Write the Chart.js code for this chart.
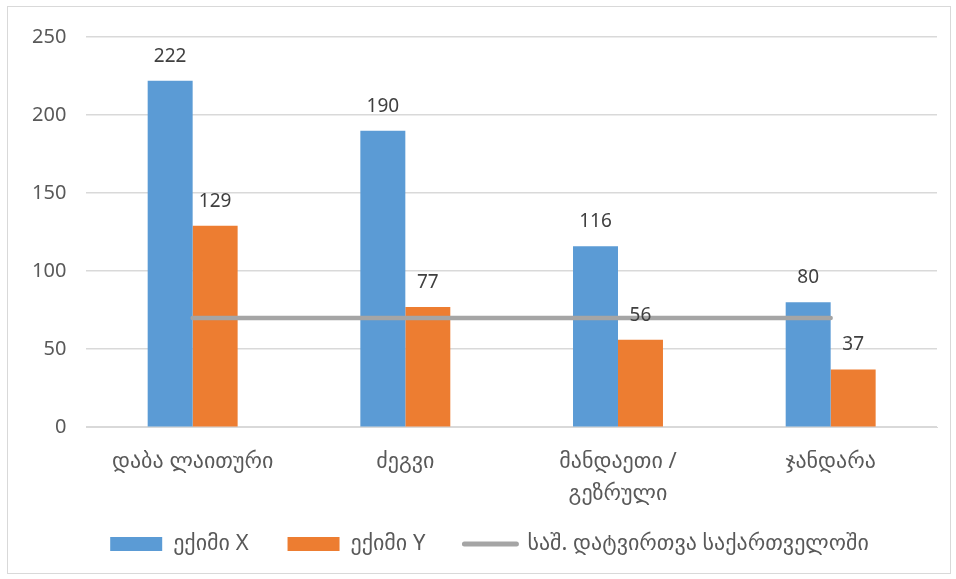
<!DOCTYPE html>
<html lang="ka">
<head>
<meta charset="utf-8">
<title>ექიმების დატვირთვა</title>
<script src="https://cdn.jsdelivr.net/npm/chart.js@4.4.1/dist/chart.umd.min.js"></script>
<style>
  html, body { margin: 0; padding: 0; background: #fff; }
  #box {
    position: absolute; left: 7px; top: 6px;
    width: 942px; height: 566px;
    border: 1px solid #D9D9D9;
  }
</style>
<script>
// data
var categories = ['დაბა ლაითური', 'ძეგვი', ['მანდაეთი /', 'გეზრული'], 'ჯანდარა'];
var doctorX = [222, 190, 116, 80];
var doctorY = [129, 77, 56, 37];
var avgGeorgia = [70, 70, 70, 70];
var yTicks = [0, 50, 100, 150, 200, 250];

var seriesNames = ['ექიმი X', 'ექიმი Y', 'საშ. დატვირთვა საქართველოში'];

var FONT = "'Noto Sans', 'DejaVu Sans', sans-serif";

// little plugin to write the values above the bars
var barValues = {
    id: 'barValues',
    afterLayout: function(chart) {
        // nudge the legend to where it is in the original
        var lg = chart.legend;
        if (lg) {
            lg.left += 15; lg.right += 15;
            lg.top -= 27;
        }
    },
    afterDatasetsDraw: function(chart) {
        var ctx = chart.ctx;
        ctx.save();
        ctx.font = '19px ' + FONT;
        ctx.fillStyle = '#404040';
        ctx.textAlign = 'center';
        ctx.textBaseline = 'alphabetic';
        chart.data.datasets.forEach(function(ds, i) {
            if (ds.type !== 'bar') return;
            var meta = chart.getDatasetMeta(i);
            meta.data.forEach(function(el, j) {
                ctx.fillText(String(ds.data[j]), el.x, el.y - 19);
            });
        });
        ctx.restore();
    }
};

function go()
{
    var ctx = document.getElementById('myChart');
    new Chart(ctx, {
        data: {
            labels: categories,
            datasets: [
                { type: 'bar', label: seriesNames[0], data: doctorX,
                  backgroundColor: '#5B9BD5', order: 1,
                  categoryPercentage: 0.423, barPercentage: 1.0 },
                { type: 'bar', label: seriesNames[1], data: doctorY,
                  backgroundColor: '#ED7D31', order: 1,
                  categoryPercentage: 0.423, barPercentage: 1.0 },
                { type: 'line', label: seriesNames[2], data: avgGeorgia,
                  borderColor: '#A5A5A5', backgroundColor: '#A5A5A5',
                  borderWidth: 4.5, borderCapStyle: 'round',
                  pointRadius: 0, fill: false, order: 0 }
            ]
        },
        options: {
            responsive: false,
            animation: false,
            layout: { padding: { left: 4, right: 13, top: 8, bottom: 4 } },
            plugins: {
                tooltip: { enabled: false },
                legend: {
                    position: 'bottom',
                    maxHeight: 48,
                    labels: {
                        font: { family: FONT, size: 22 },
                        color: '#595959',
                        boxWidth: 52,
                        boxHeight: 14,
                        padding: 39,
                        usePointStyle: true,
                        pointStyleWidth: 52,
                        generateLabels: function(chart) {
                            return chart.data.datasets.map(function(ds, i) {
                                var isLine = ds.type === 'line';
                                return {
                                    text: ds.label,
                                    datasetIndex: i,
                                    fillStyle: ds.backgroundColor,
                                    strokeStyle: isLine ? ds.borderColor : ds.backgroundColor,
                                    lineWidth: isLine ? 5 : 0,
                                    lineCap: 'round',
                                    pointStyle: isLine ? 'line' : 'rect',
                                    fontColor: '#595959'
                                };
                            });
                        }
                    }
                }
            },
            scales: {
                x: {
                    grid: { display: false },
                    border: { color: '#D9D9D9' },
                    ticks: {
                        font: { family: FONT, size: 22, lineHeight: 1.45 },
                        color: '#595959',
                        padding: 11,
                        maxRotation: 0, autoSkip: false
                    }
                },
                y: {
                    min: yTicks[0],
                    max: yTicks[yTicks.length - 1],
                    afterBuildTicks: function(axis) {
                        axis.ticks = yTicks.map(function(v) { return { value: v }; });
                    },
                    grid: { color: '#D9D9D9', lineWidth: 1.5, drawTicks: false },
                    border: { display: false },
                    ticks: {
                        font: { family: FONT, size: 20, lineHeight: 1.0 },
                        color: '#595959',
                        padding: 20
                    }
                }
            }
        },
        plugins: [barValues]
    });
}
</script>
</head>
<body onload="go();">
<div id="box">
  <canvas id="myChart" width="942" height="566"></canvas>
</div>
</body>
</html>
